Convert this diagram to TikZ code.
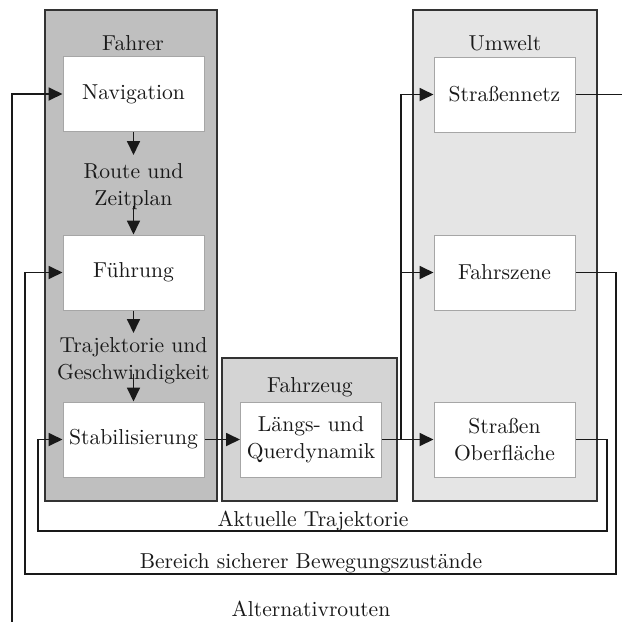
\documentclass[tikz,border=0pt]{standalone}
\usetikzlibrary{arrows.meta}
\begin{document}
\begin{tikzpicture}[x=0.5pt,y=-0.5pt,
  every node/.style={font=\fontsize{10.8}{13.5}\selectfont, text=black!90},
  group/.style={draw=black!80, line width=1.1pt, inner sep=0pt},
  block/.style={draw=black!35, fill=white, line width=0.5pt, minimum width=70.5pt, minimum height=37.5pt, inner sep=0pt, align=center},
  lbl/.style={inner sep=0pt, align=center},
  arr/.style={draw=black!90, line width=0.9pt, -{Triangle[length=7pt,width=6.5pt]}},
  ln/.style={draw=black!90, line width=0.9pt}]
\useasboundingbox (0,0) rectangle (622,622);
\clip (0,0) rectangle (622,622);
% groups
\node[group, fill=black!25, minimum width=86pt, minimum height=245.5pt] (fahrer) at (131,255.5) {};
\node[group, fill=black!17, minimum width=87.5pt, minimum height=71.5pt] (fahrzeug) at (309.5,429.5) {};
\node[group, fill=black!10, minimum width=92pt, minimum height=245.5pt] (umwelt) at (505,255.5) {};
% group labels
\node[lbl] (lfahrer) at (133,43) {Fahrer};
\node[lbl] (lfahrzeug) at (310,387) {Fahrzeug};
\node[lbl] (lumwelt) at (505,43) {Umwelt};
% blocks
\node[block] (nav) at (133.5,94) {Navigation};
\node[block] (fuehr) at (133.5,272.5) {Führung};
\node[block] (stab) at (133.5,439.5) {Stabilisierung};
\node[block] (laengs) at (311,439.5) {Längs- und\\Querdynamik};
\node[block] (snetz) at (504.5,94.5) {Straßennetz};
\node[block] (fsz) at (504.5,272.5) {Fahrszene};
\node[block] (sobf) at (504.5,439.5) {Straßen\\Oberfläche};
% intermediate labels
\node[lbl] (route) at (133.5,187) {Route und\\Zeitplan};
\node[lbl] (traj) at (133.5,361) {Trajektorie und\\Geschwindigkeit};
\coordinate (r1) at (133.5,155);
\coordinate (r2) at (133.5,206);
\coordinate (t1) at (133.5,333);
\coordinate (t2) at (133.5,374);
\draw[arr] (nav.south) -- (r1);
\draw[arr] (r2) -- (fuehr.north);
\draw[arr] (fuehr.south) -- (t1);
\draw[arr] (t2) -- (stab.north);
% forward chain
\draw[arr] (stab.east) -- (laengs.west);
\draw[arr] (laengs.east) -- (sobf.west);
\coordinate (br) at (401,439.5);
\draw[arr] (br) |- (snetz.west);
\draw[arr] (br |- fsz.west) -- (fsz.west);
% feedback loops
\draw[arr] (sobf.east) -- (607,439.5) |- (38,531) |- (stab.west);
\draw[arr] (fsz.east) -- (616,272.5) |- (25,574) |- (fuehr.west);
\draw[arr] (snetz.east) -- (640,94.5) |- (12,640) |- (nav.west);
% loop labels
\node[lbl] (lakt) at (313,521) {Aktuelle Trajektorie};
\node[lbl] (lber) at (311,563) {Bereich sicherer Bewegungszustände};
\node[lbl] (lalt) at (311,609) {Alternativrouten};
\end{tikzpicture}
\end{document}
